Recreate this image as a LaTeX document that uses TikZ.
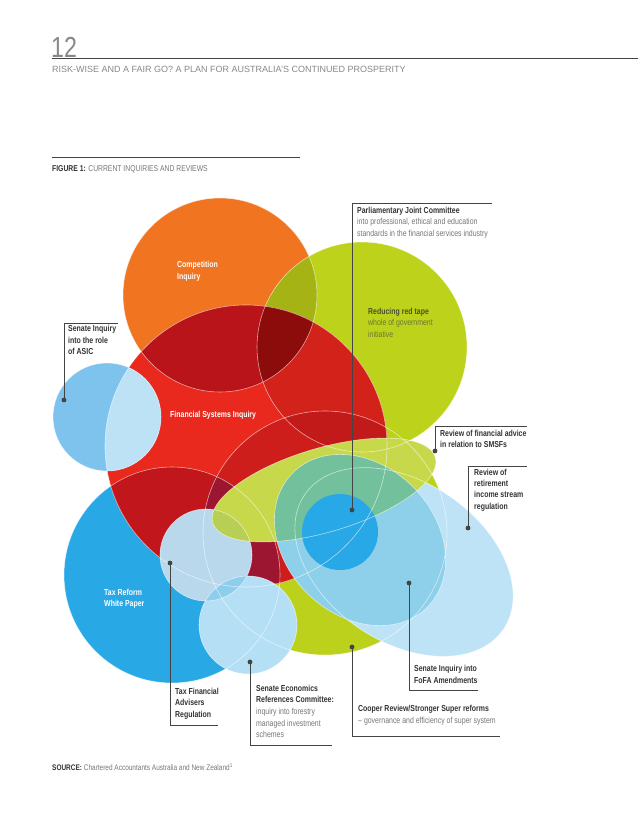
\documentclass[tikz,border=0pt]{standalone}
\usepackage{fontspec}
\setmainfont{Liberation Sans}
\newfontfamily\cf{Liberation Sans}[FakeStretch=0.8]
\definecolor{cO}{HTML}{F17421}
\definecolor{cG}{HTML}{BDD31B}
\definecolor{cOG}{HTML}{A5B414}
\definecolor{cR}{HTML}{E9281E}
\definecolor{cRO}{HTML}{B8141A}
\definecolor{cROG}{HTML}{8C0C0C}
\definecolor{cRG}{HTML}{D22219}
\definecolor{cRC}{HTML}{CD1E1B}
\definecolor{cRGC}{HTML}{C21A18}
\definecolor{cRT}{HTML}{C1161B}
\definecolor{cRTC}{HTML}{9C1632}
\definecolor{cT}{HTML}{28A8E5}
\definecolor{cA}{HTML}{7DC3EE}
\definecolor{cAR}{HTML}{BDE1F5}
\definecolor{cTF}{HTML}{BAD8EB}
\definecolor{cSE}{HTML}{B5DFF5}
\definecolor{cTFSE}{HTML}{8FCDEC}
\definecolor{cC}{HTML}{BCD11B}
\definecolor{cF}{HTML}{8ECFEA}
\definecolor{cRet}{HTML}{BEE3F6}
\definecolor{cS}{HTML}{C8D84B}
\definecolor{cSTF}{HTML}{B8CF55}
\definecolor{cTeal}{HTML}{72C19C}
\definecolor{cP}{HTML}{28A8E6}
\definecolor{tdark}{HTML}{333333}
\definecolor{tgrey}{HTML}{777777}
\definecolor{tolv}{HTML}{4C5030}
\definecolor{tolvb}{HTML}{6C7634}
\definecolor{hgrey}{HTML}{888888}
\definecolor{lgrey}{HTML}{444444}
\def\pO{(220,295) circle[radius=97pt]}
\def\pG{(362,347) circle[radius=105pt]}
\def\pR{(246,446) circle[radius=141pt]}
\def\pT{(172,575) circle[radius=108pt]}
\def\pC{(325,533) circle[radius=122pt]}
\def\pA{(107,417) circle[radius=54pt]}
\def\pTF{(206,555) circle[radius=46pt]}
\def\pSE{(248,625) circle[radius=49pt]}
\def\pP{(340,532) circle[radius=38pt]}
\def\eF{[rotate around={-45:(360,540)}] (360,540) ellipse[x radius=95pt,y radius=75pt]}
\def\eRet{[rotate around={-34:(404,562)}] (404,562) ellipse[x radius=120pt,y radius=80pt]}
\def\eS{[rotate around={16.4:(324,490)}] (324,490) ellipse[x radius=116pt,y radius=42pt]}
\tikzset{
  wl/.style={draw=white, draw opacity=0.6, line width=0.6pt},
  ldr/.style={draw=lgrey, line width=0.8pt},
  dotm/.style={fill=lgrey},
  lbl/.style={anchor=north west, inner sep=0pt, align=left, font=\cf\fontsize{8.7}{11.7}\selectfont, text=tdark},
  blbl/.style={lbl, font=\cf\bfseries\fontsize{8.7}{11.7}\selectfont},
  wlbl/.style={lbl, text=white, font=\cf\bfseries\fontsize{8.7}{11.7}\selectfont},
}
\begin{document}
\begin{tikzpicture}[x=1pt,y=-1pt]
\useasboundingbox (0,0) rectangle (638,828);
\fill[white] (0,0) rectangle (638,828);
% header
\node[anchor=base west, inner sep=0pt, text=hgrey, font=\cf\fontsize{29}{29}\selectfont] (pnum) at (51,57) {12};
\coordinate (hl1) at (52,58); \coordinate (hl2) at (638,58);
\draw[lgrey, line width=0.8pt] (hl1) -- (hl2);
\node[anchor=base west, inner sep=0pt, text=hgrey, font=\fontsize{9}{9}\selectfont] (sub) at (52,72) {RISK-WISE AND A FAIR GO? A PLAN FOR AUSTRALIA'S CONTINUED PROSPERITY};
\coordinate (fl1) at (52,157); \coordinate (fl2) at (300,157);
\draw[lgrey, line width=0.8pt] (fl1) -- (fl2);
\node[anchor=base west, inner sep=0pt, text=tgrey, font=\cf\fontsize{8.5}{8.5}\selectfont] (ftitle) at (52,171) {\textcolor{tdark}{\bfseries FIGURE 1:} CURRENT INQUIRIES AND REVIEWS};
% base shapes
\fill[cO] \pO;
\fill[cG] \pG;
\begin{scope}\clip \pO; \fill[cOG] \pG; \end{scope}
\fill[cT] \pT;
\fill[cC] \pC;
\fill[cR] \pR;
\begin{scope}\clip \pR;
  \fill[cRG] \pG;
  \fill[cRC] \pC;
  \begin{scope}\clip \pG; \fill[cRGC] \pC; \end{scope}
  \fill[cRT] \pT;
  \begin{scope}\clip \pT; \fill[cRTC] \pC; \end{scope}
  \fill[cRO] \pO;
  \begin{scope}\clip \pO; \fill[cROG] \pG; \end{scope}
\end{scope}
% upper shapes
\fill[cA] \pA;
\begin{scope}\clip \pR; \fill[cAR] \pA; \end{scope}
\fill[cTF] \pTF;
\fill[cSE] \pSE;
\begin{scope}\clip \pTF; \fill[cTFSE] \pSE; \end{scope}
\fill[cRet] \eRet;
\fill[cF] \eF;
\fill[cS] \eS;
\begin{scope}\clip \eS; \fill[cTeal] \eF; \fill[cSTF] \pTF; \end{scope}
\fill[cP] \pP;
% outlines
\draw[wl] \pO; \draw[wl] \pG; \draw[wl] \pR; \draw[wl] \pT; \draw[wl] \pC;
\draw[wl] \pA; \draw[wl] \pTF; \draw[wl] \pSE;
\draw[wl] \eRet; \draw[wl] \eF; \draw[wl] \eS;
% labels inside
\node[wlbl] (comp) at (177,261) {Competition\\Inquiry};
\node[wlbl] (fsi) at (170,410.5) {Financial Systems Inquiry};
\node[wlbl] (tax) at (104,588.5) {Tax Reform\\White Paper};
\node[lbl] (red) at (368,307.5) {\textcolor{tolv}{\bfseries Reducing red tape}\\\textcolor{tolvb}{whole of government}\\\textcolor{tolvb}{initiative}};
% outside labels
\node[lbl] (pjc) at (357,206.5) {\bfseries Parliamentary Joint Committee\\\textcolor{tgrey}{into professional, ethical and education}\\\textcolor{tgrey}{standards in the financial services industry}};
\node[blbl] (asic) at (68,325) {Senate Inquiry\\into the role\\of ASIC};
\node[blbl, font=\cf\bfseries\fontsize{8.7}{11.2}\selectfont] (smsf) at (440,430) {Review of financial advice\\in relation to SMSFs};
\node[blbl, font=\cf\bfseries\fontsize{8.7}{11.4}\selectfont] (ret) at (474,468.5) {Review of\\retirement\\income stream\\regulation};
\node[blbl] (taxfin) at (175,687.5) {Tax Financial\\Advisers\\Regulation};
\node[lbl] (senec) at (256,684.5) {\bfseries Senate Economics\\\bfseries References Committee:\\\textcolor{tgrey}{inquiry into forestry}\\\textcolor{tgrey}{managed investment}\\\textcolor{tgrey}{schemes}};
\node[lbl] (coop) at (358,705) {\bfseries Cooper Review/Stronger Super reforms\\\textcolor{tgrey}{– governance and efficiency of super system}};
\node[blbl] (fofa) at (414,665) {Senate Inquiry into\\FoFA Amendments};
\node[anchor=base west, inner sep=0pt, text=tgrey, font=\cf\fontsize{8.1}{8.1}\selectfont] (src) at (52,770) {\textcolor{tdark}{\bfseries SOURCE:} Chartered Accountants Australia and New Zealand\textsuperscript{1}};
% leaders
\coordinate (dPJC) at (352,510); \coordinate (ePJC) at (492,203);
\coordinate (dASIC) at (64,400); \coordinate (eASIC) at (118,323);
\coordinate (dSMSF) at (435,451); \coordinate (eSMSF) at (527,426);
\coordinate (dRET) at (468,528); \coordinate (eRET) at (527,466);
\coordinate (dTF) at (170,563); \coordinate (eTF) at (218,725);
\coordinate (dSE) at (250,662); \coordinate (eSE) at (332,745);
\coordinate (dCO) at (352,647); \coordinate (eCO) at (500,736);
\coordinate (dFO) at (409,583); \coordinate (eFO) at (478,690);
\foreach \d/\e in {dPJC/ePJC,dASIC/eASIC,dSMSF/eSMSF,dRET/eRET,dTF/eTF,dSE/eSE,dCO/eCO,dFO/eFO}{
  \draw[ldr] (\d) |- (\e);
  \fill[dotm] (\d) circle[radius=2.4pt];
}
\end{tikzpicture}
\end{document}
